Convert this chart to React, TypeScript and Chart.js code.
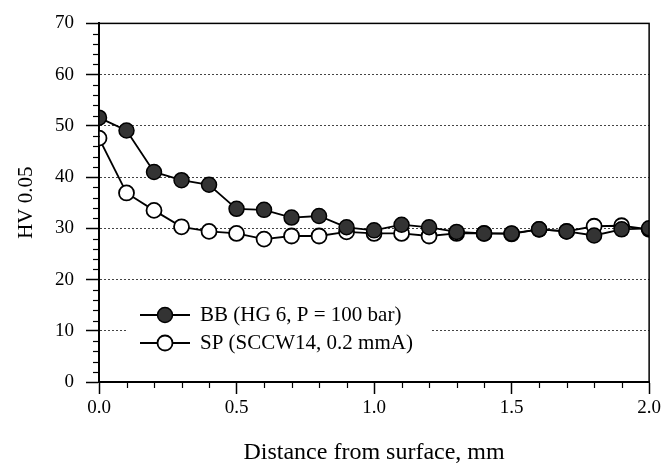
import React, { useEffect, useRef } from "react";
import { Chart, registerables } from "chart.js";

Chart.register(...registerables);

// ---- data ----
const distance = [0, 0.1, 0.2, 0.3, 0.4, 0.5, 0.6, 0.7, 0.8, 0.9, 1.0, 1.1, 1.2, 1.3, 1.4, 1.5, 1.6, 1.7, 1.8, 1.9, 2.0];
const bbValues = [51.6, 49.1, 41.0, 39.4, 38.5, 33.8, 33.6, 32.1, 32.4, 30.2, 29.6, 30.7, 30.2, 29.3, 29.0, 29.0, 29.8, 29.4, 28.6, 29.8, 30.0];
const spValues = [47.6, 36.9, 33.5, 30.3, 29.4, 29.0, 27.9, 28.5, 28.5, 29.3, 29.0, 29.0, 28.5, 29.0, 29.0, 28.9, 29.8, 29.4, 30.4, 30.5, 29.8];
const seriesLabels = ["BB (HG 6, P = 100 bar)", "SP (SCCW14, 0.2 mmA)"];
const yTickValues = [0, 10, 20, 30, 40, 50, 60, 70];
const xTickValues = [0, 0.5, 1.0, 1.5, 2.0];
const xTitle = "Distance from surface, mm";
const yTitle = "HV 0.05";

const FONT = "'Liberation Serif', 'Times New Roman', serif";

const decorPlugin = {
  id: "decor",
  beforeDatasetsDraw(chart: any) {
    const { ctx } = chart;
    const ds = chart.data.datasets;
    ctx.save();
    ctx.fillStyle = "#fff";
    ctx.fillRect(128, 298, 304, 62);
    const rows = [315, 343];
    rows.forEach((y, i) => {
      const d = ds[i];
      ctx.strokeStyle = "#000";
      ctx.lineWidth = 1.8;
      ctx.beginPath();
      ctx.moveTo(140, y);
      ctx.lineTo(190, y);
      ctx.stroke();
      ctx.beginPath();
      ctx.arc(165, y, 7.5, 0, Math.PI * 2);
      ctx.fillStyle = d.pointBackgroundColor;
      ctx.fill();
      ctx.lineWidth = d.pointBorderWidth;
      ctx.strokeStyle = "#000";
      ctx.stroke();
      ctx.fillStyle = "#000";
      ctx.font = `21px ${FONT}`;
      ctx.textBaseline = "middle";
      ctx.textAlign = "left";
      ctx.fillText(d.label, 200, y);
    });
    ctx.restore();
  },
  afterDraw(chart: any) {
    const { ctx, chartArea, scales } = chart;
    const ys = scales.y;
    const xs = scales.x;
    ctx.save();
    ctx.strokeStyle = "#000";
    ctx.lineWidth = 1.5;
    ctx.strokeRect(chartArea.left, chartArea.top, chartArea.right - chartArea.left, chartArea.bottom - chartArea.top);
    ctx.lineWidth = 1.2;
    for (let v = 2; v < 70; v += 2) {
      if (v % 10 === 0) continue;
      const y = Math.round(ys.getPixelForValue(v)) + 0.5;
      ctx.beginPath();
      ctx.moveTo(chartArea.left - 6, y);
      ctx.lineTo(chartArea.left + 1, y);
      ctx.stroke();
    }
    for (let i = 1; i < 20; i++) {
      if (i % 5 === 0) continue;
      const x = Math.round(xs.getPixelForValue(i / 10)) + 0.5;
      ctx.beginPath();
      ctx.moveTo(x, chartArea.bottom - 1);
      ctx.lineTo(x, chartArea.bottom + 6);
      ctx.stroke();
    }
    ctx.restore();
  },
};

export default function App() {
  const ref = useRef<HTMLCanvasElement | null>(null);

  useEffect(() => {
    document.body.style.margin = "0";
    const canvas = ref.current;
    if (!canvas) return;
    const chart = new Chart(canvas, {
      type: "line",
      data: {
        datasets: [
          {
            label: seriesLabels[0],
            data: distance.map((x, i) => ({ x, y: bbValues[i] })),
            borderColor: "#000",
            borderWidth: 1.8,
            backgroundColor: "#333",
            pointBackgroundColor: "#333",
            pointBorderColor: "#000",
            pointBorderWidth: 1.5,
            pointRadius: 7.5,
            tension: 0,
          },
          {
            label: seriesLabels[1],
            data: distance.map((x, i) => ({ x, y: spValues[i] })),
            borderColor: "#000",
            borderWidth: 1.8,
            backgroundColor: "#fff",
            pointBackgroundColor: "#fff",
            pointBorderColor: "#000",
            pointBorderWidth: 1.8,
            pointRadius: 7.5,
            tension: 0,
          },
        ],
      },
      options: {
        animation: false,
        responsive: false,
        maintainAspectRatio: false,
        devicePixelRatio: 1,
        layout: { padding: { top: 19, right: 14, left: 0, bottom: 0 } },
        plugins: {
          legend: { display: false },
          tooltip: { enabled: false },
        },
        scales: {
          x: {
            type: "linear",
            min: 0,
            max: 2,
            afterBuildTicks: (s: any) => {
              s.ticks = xTickValues.map((v) => ({ value: v }));
            },
            afterFit: (s: any) => {
              s.height = 89;
            },
            ticks: {
              color: "#000",
              font: { family: FONT, size: 19 },
              padding: 3,
              maxRotation: 0,
              callback: (v: any) => Number(v).toFixed(1),
            },
            grid: {
              drawOnChartArea: false,
              drawTicks: true,
              tickLength: 12,
              tickColor: "#000",
              tickWidth: 1.5,
            },
            border: { display: true, color: "#000", width: 2 },
            title: {
              display: true,
              text: xTitle,
              color: "#000",
              font: { family: FONT, size: 24 },
              padding: { top: 0, bottom: 4 },
            },
          },
          y: {
            type: "linear",
            min: 0,
            max: 70,
            afterBuildTicks: (s: any) => {
              s.ticks = yTickValues.map((v) => ({ value: v }));
            },
            afterFit: (s: any) => {
              s.width = 99;
            },
            ticks: {
              color: "#000",
              font: { family: FONT, size: 19 },
              padding: 12,
            },
            grid: {
              drawOnChartArea: true,
              color: (c: any) =>
                c.tick && (c.tick.value === 0 || c.tick.value === 70) ? "rgba(0,0,0,0)" : "#444",
              lineWidth: 1,
              drawTicks: true,
              tickLength: 13,
              tickColor: "#000",
              tickWidth: 1.5,
            },
            border: { display: true, color: "#000", width: 2, dash: [2, 2] },
            title: {
              display: true,
              text: yTitle,
              color: "#000",
              font: { family: FONT, size: 21 },
              padding: { top: 14, bottom: 0 },
            },
          },
        },
      },
      plugins: [decorPlugin],
    } as any);
    return () => chart.destroy();
  }, []);

  return (
    <div style={{ width: 664, height: 471 }}>
      <canvas ref={ref} width={664} height={471} style={{ display: "block" }} />
    </div>
  );
}
